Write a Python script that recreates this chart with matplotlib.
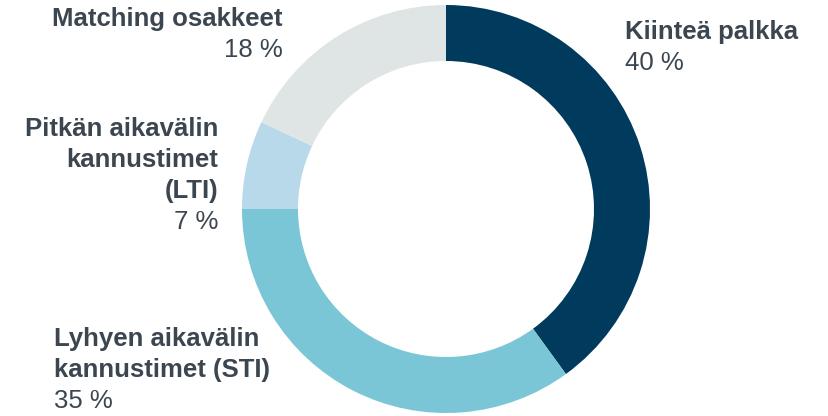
import matplotlib.pyplot as plt

categories = ["Kiinteä palkka", "Lyhyen aikavälin\nkannustimet (STI)",
              "Pitkän aikavälin\nkannustimet\n(LTI)", "Matching osakkeet"]
shares = [40, 35, 7, 18]
colors = ["#003a5c", "#7bc6d6", "#b8d9ea", "#dfe5e5"]
text_color = "#3c4650"

plt.rcParams['font.family'] = ['Liberation Sans', 'DejaVu Sans']

fig = plt.figure(figsize=(8.29, 4.16), dpi=100)
ax = fig.add_axes([0, 0, 1, 1])

# pie in pixel-like coords (y axis flipped so go counterclockwise)
ax.pie(shares, colors=colors, startangle=-90, counterclock=True,
       center=(446, 209), radius=204,
       wedgeprops=dict(width=56, linewidth=0), frame=True)
ax.set_xlim(0, 829)
ax.set_ylim(416, 0)
ax.set_aspect('equal')
ax.axis('off')

fs = 18.5
pitch = 31
# label anchors: (x, y of first line center, horizontal alignment)
anchors = [(625, 32, 'left'), (54, 339, 'left'), (218, 129, 'right'), (283, 19, 'right')]
for (x, y, ha), name, val in zip(anchors, categories, shares):
    lines = name.split("\n")
    for i, line in enumerate(lines):
        ax.text(x, y + i * pitch, line, ha=ha, va='center', fontsize=fs,
                fontweight='bold', color=text_color)
    ax.text(x, y + len(lines) * pitch, f"{val} %", ha=ha, va='center',
            fontsize=fs, color=text_color)

fig.savefig("out.png", dpi=100)
